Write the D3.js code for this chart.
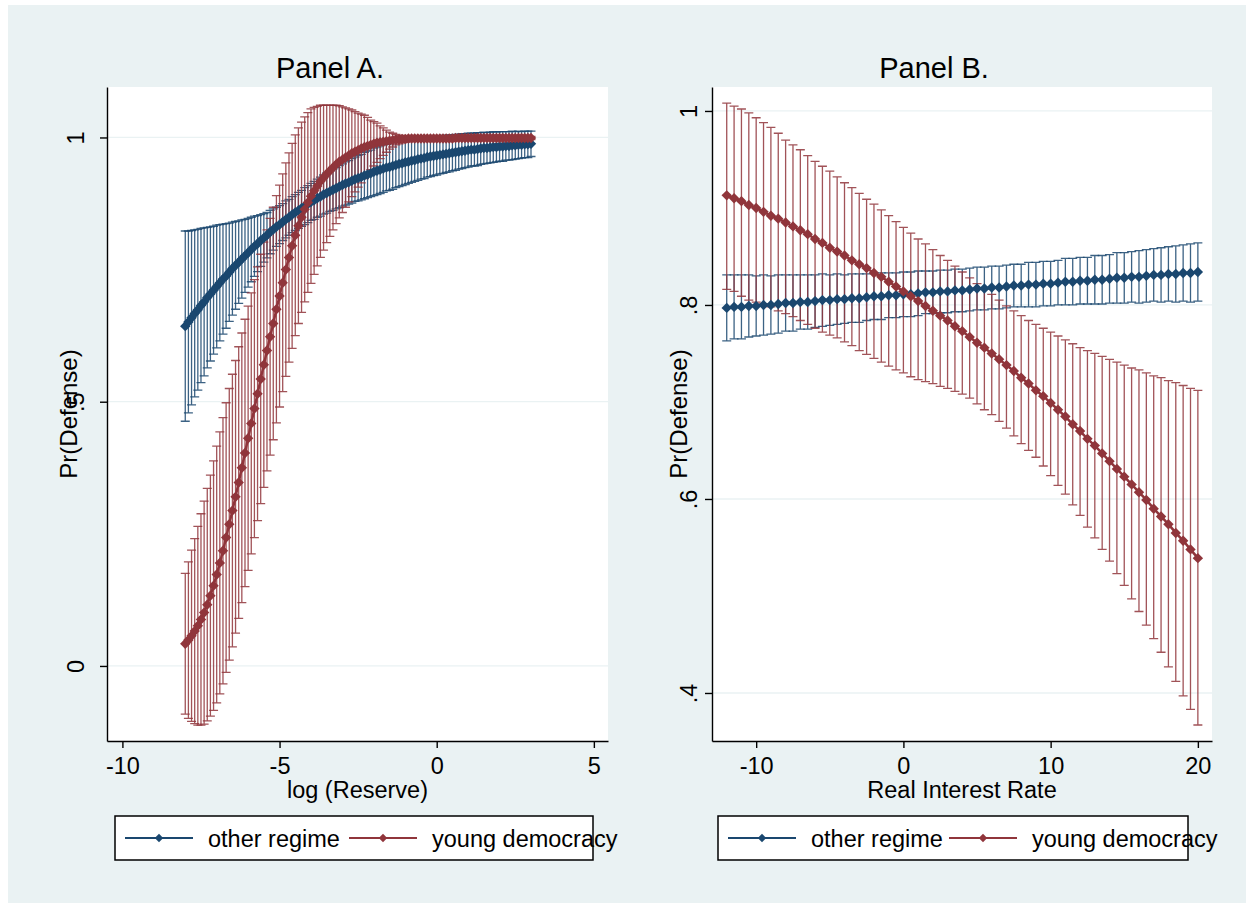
<!DOCTYPE html>
<html>
<head>
<meta charset="utf-8">
<script src="https://cdn.jsdelivr.net/npm/d3@7"></script>
<style>
body { margin: 0; background: #fff; }
text { font-family: "Liberation Sans", Arial, sans-serif; fill: #000; }
</style>
</head>
<body>
<svg id="chart" width="1253" height="907"></svg>
<script>
// Panel A : log (Reserve)
var reserveX = [
  -8.0,-7.9,-7.8,-7.7,-7.6,-7.5,-7.4,-7.3,-7.2,-7.1,
  -7.0,-6.9,-6.8,-6.7,-6.6,-6.5,-6.4,-6.3,-6.2,-6.1,
  -6.0,-5.9,-5.8,-5.7,-5.6,-5.5,-5.4,-5.3,-5.2,-5.1,
  -5.0,-4.9,-4.8,-4.7,-4.6,-4.5,-4.4,-4.3,-4.2,-4.1,
  -4.0,-3.9,-3.8,-3.7,-3.6,-3.5,-3.4,-3.3,-3.2,-3.1,
  -3.0,-2.9,-2.8,-2.7,-2.6,-2.5,-2.4,-2.3,-2.2,-2.1,
  -2.0,-1.9,-1.8,-1.7,-1.6,-1.5,-1.4,-1.3,-1.2,-1.1,
  -1.0,-0.9,-0.8,-0.7,-0.6,-0.5,-0.4,-0.3,-0.2,-0.1,
  0.0,0.1,0.2,0.3,0.4,0.5,0.6,0.7,0.8,0.9,
  1.0,1.1,1.2,1.3,1.4,1.5,1.6,1.7,1.8,1.9,
  2.0,2.1,2.2,2.3,2.4,2.5,2.6,2.7,2.8,2.9,
  3.0];

var otherA = [
  .643,.651,.659,.667,.674,.682,.689,.697,.704,.711,
  .718,.725,.732,.738,.745,.752,.758,.764,.770,.776,
  .782,.788,.794,.799,.805,.810,.815,.821,.826,.831,
  .835,.840,.845,.849,.854,.858,.862,.866,.870,.874,
  .878,.881,.885,.888,.892,.895,.898,.901,.904,.907,
  .910,.913,.915,.918,.921,.923,.925,.928,.930,.932,
  .935,.937,.939,.941,.943,.944,.946,.948,.950,.951,
  .953,.954,.956,.957,.959,.960,.961,.963,.964,.965,
  .966,.967,.968,.969,.970,.971,.972,.973,.974,.975,
  .976,.977,.977,.978,.979,.980,.980,.981,.982,.982,
  .983,.983,.984,.984,.985,.985,.986,.986,.987,.987,
  .988];
var otherAci = [
  .180,.172,.165,.158,.152,.146,.140,.133,.127,.121,
  .116,.110,.104,.099,.093,.088,.083,.078,.074,.069,
  .065,.061,.057,.053,.049,.046,.043,.041,.039,.037,
  .036,.035,.035,.034,.034,.034,.034,.034,.035,.035,
  .035,.036,.036,.037,.037,.038,.038,.039,.039,.040,
  .040,.041,.041,.042,.042,.043,.043,.044,.044,.044,
  .045,.045,.045,.045,.044,.044,.044,.043,.043,.042,
  .042,.041,.041,.040,.040,.039,.039,.038,.038,.037,
  .037,.036,.036,.035,.035,.034,.034,.033,.033,.032,
  .032,.031,.031,.031,.030,.030,.029,.029,.029,.028,
  .028,.028,.027,.027,.027,.026,.026,.025,.025,.025,
  .024];

var youngA = [
  .042,.049,.057,.066,.076,.088,.101,.116,.133,.152,
  .173,.195,.218,.243,.268,.294,.320,.347,.375,.403,
  .431,.459,.487,.515,.543,.570,.597,.623,.648,.675,
  .700,.725,.750,.773,.795,.815,.833,.849,.864,.877,
  .889,.899,.908,.917,.924,.931,.937,.943,.949,.954,
  .958,.962,.966,.970,.973,.976,.979,.982,.984,.986,
  .988,.990,.991,.992,.993,.994,.995,.996,.996,.997,
  .997,.998,.998,.998,.998,.998,.998,.998,.998,.998,
  .998,.998,.998,.998,.998,.998,.999,.999,.999,.999,
  .999,.999,.999,.999,.999,.999,.999,.999,.999,.999,
  .999,.999,.999,.999,.999,.999,.999,.999,.999,.999,
  .999];
var youngAci = [
  .133,.148,.162,.175,.188,.200,.211,.220,.228,.236,
  .243,.248,.252,.255,.257,.258,.258,.257,.255,.253,
  .250,.247,.244,.240,.236,.232,.228,.224,.220,.215,
  .210,.206,.202,.198,.194,.190,.185,.180,.175,.170,
  .165,.158,.151,.144,.137,.130,.124,.118,.112,.106,
  .100,.094,.088,.082,.076,.070,.065,.060,.054,.047,
  .042,.037,.031,.026,.021,.016,.013,.010,.008,.007,
  .006,.005,.005,.004,.004,.004,.004,.004,.004,.004,
  .004,.004,.004,.004,.004,.004,.004,.004,.004,.004,
  .004,.003,.003,.003,.003,.003,.003,.003,.003,.003,
  .003,.003,.003,.003,.003,.003,.003,.003,.003,.003,
  .003];

// Panel B : Real Interest Rate
var rateX = [
  -12,-11.5,-11,-10.5,-10,-9.5,-9,-8.5,-8,-7.5,
  -7,-6.5,-6,-5.5,-5,-4.5,-4,-3.5,-3,-2.5,
  -2,-1.5,-1,-0.5,0,0.5,1,1.5,2,2.5,
  3,3.5,4,4.5,5,5.5,6,6.5,7,7.5,
  8,8.5,9,9.5,10,10.5,11,11.5,12,12.5,
  13,13.5,14,14.5,15,15.5,16,16.5,17,17.5,
  18,18.5,19,19.5,20];

var otherB = [
  .797,.798,.798,.799,.799,.800,.800,.801,.802,.802,
  .803,.803,.804,.805,.805,.806,.806,.807,.807,.808,
  .809,.809,.810,.810,.811,.811,.812,.813,.813,.814,
  .814,.815,.815,.816,.817,.817,.818,.818,.819,.820,
  .820,.821,.821,.822,.822,.823,.824,.824,.825,.825,
  .826,.826,.827,.828,.828,.829,.829,.830,.831,.831,
  .832,.832,.833,.833,.834];
var otherBci = [
  .034,.033,.033,.032,.031,.031,.030,.030,.029,.029,
  .028,.028,.027,.027,.026,.026,.025,.025,.025,.024,
  .024,.024,.023,.023,.023,.023,.023,.022,.022,.022,
  .022,.022,.022,.022,.022,.022,.022,.022,.022,.022,
  .022,.023,.023,.023,.023,.023,.024,.024,.024,.024,
  .025,.025,.025,.026,.026,.026,.027,.027,.027,.028,
  .028,.029,.029,.030,.030];

var youngB = [
  .913,.910,.907,.903,.900,.896,.892,.889,.885,.881,
  .877,.873,.868,.864,.859,.855,.851,.846,.842,.838,
  .833,.829,.824,.819,.814,.809,.804,.799,.794,.789,
  .784,.778,.773,.767,.761,.756,.750,.744,.738,.732,
  .725,.719,.712,.706,.699,.692,.685,.677,.670,.662,
  .655,.647,.639,.631,.623,.615,.607,.599,.590,.582,
  .574,.565,.557,.548,.539];
var youngBhi = [
  1.008,1.005,1.002,.998,.993,.988,.983,.977,.970,.965,
  .960,.954,.948,.943,.938,.932,.926,.921,.915,.909,
  .904,.898,.892,.886,.880,.874,.868,.863,.857,.851,
  .846,.840,.834,.828,.822,.816,.811,.805,.799,.794,
  .789,.784,.780,.776,.772,.768,.764,.760,.756,.753,
  .750,.747,.744,.741,.738,.735,.733,.730,.727,.725,
  .722,.720,.717,.714,.712];
var youngBlo = [
  .816,.814,.809,.805,.803,.801,.798,.794,.791,.788,
  .784,.780,.776,.772,.769,.766,.762,.758,.753,.749,
  .745,.741,.737,.733,.730,.726,.723,.721,.719,.716,
  .714,.711,.708,.704,.698,.692,.687,.680,.673,.665,
  .657,.650,.643,.634,.624,.614,.605,.594,.583,.571,
  .560,.548,.536,.523,.511,.497,.484,.470,.456,.442,
  .427,.412,.397,.383,.367];

var xTicksA = [-10, -5, 0, 5];
var yTicksA = [0, .5, 1];
var xTicksB = [-10, 0, 10, 20];
var yTicksB = [.4, .6, .8, 1];
var legendLabels = ["other regime", "young democracy"];

var NAVY = "#1a476f", MAROON = "#90353b";

// est +/- half width
function rowsFromCi(xs, est, ci) {
  return xs.map(function(x, i) { return {x: x, est: est[i], lo: est[i] - ci[i], hi: est[i] + ci[i]}; });
}
function rowsFromBounds(xs, est, lo, hi) {
  return xs.map(function(x, i) { return {x: x, est: est[i], lo: lo[i], hi: hi[i]}; });
}

var svg = d3.select("#chart");
svg.append("rect").attr("x", 8).attr("y", 5).attr("width", 1238).attr("height", 898).attr("fill", "#eaf2f3");

function diamond(r) { return "M0," + (-r) + "L" + r + ",0L0," + r + "L" + (-r) + ",0Z"; }

function yFmt(d) { return d === 0 ? "0" : String(d).replace(/^0\./, "."); }

function drawPanel(p) {
  var g = svg.append("g");
  var x = d3.scaleLinear().domain(p.xDomain).range([p.left, p.right]);
  var y = d3.scaleLinear().domain(p.yDomain).range([p.bottom, p.top]);

  g.append("rect").attr("x", p.left).attr("y", p.top)
    .attr("width", p.right - p.left).attr("height", p.bottom - p.top).attr("fill", "#fff");

  g.selectAll("line.grid").data(p.yTicks).join("line").attr("class", "grid")
    .attr("x1", p.left).attr("x2", p.right)
    .attr("y1", function(d) { return y(d); }).attr("y2", function(d) { return y(d); })
    .attr("stroke", "#eaf2f3").attr("stroke-width", 1.3);

  // confidence intervals (rcap)
  var cap = 4.5;
  p.series.forEach(function(s) {
    g.append("g").selectAll("path").data(s.rows).join("path")
      .attr("d", function(d) {
        var px = x(d.x), yh = y(d.hi), yl = y(d.lo);
        return "M" + (px - cap) + "," + yh + "H" + (px + cap) +
               "M" + px + "," + yh + "V" + yl +
               "M" + (px - cap) + "," + yl + "H" + (px + cap);
      })
      .attr("fill", "none").attr("stroke", s.color).attr("stroke-width", 1.3).attr("stroke-opacity", 0.85);
  });

  // estimates
  p.series.forEach(function(s) {
    var line = d3.line().x(function(d) { return x(d.x); }).y(function(d) { return y(d.est); });
    g.append("path").datum(s.rows).attr("d", line)
      .attr("fill", "none").attr("stroke", s.color).attr("stroke-width", 2.5);
    g.append("g").selectAll("path").data(s.rows).join("path")
      .attr("transform", function(d) { return "translate(" + x(d.x) + "," + y(d.est) + ")"; })
      .attr("d", diamond(5.2)).attr("fill", s.color);
  });

  // axes
  var xa = g.append("g").attr("transform", "translate(0," + p.bottom + ")")
    .call(d3.axisBottom(x).tickValues(p.xTicks).tickSize(7).tickSizeOuter(0).tickPadding(9)
      .tickFormat(function(d) { return String(d); }));
  var ya = g.append("g").attr("transform", "translate(" + p.left + ",0)")
    .call(d3.axisLeft(y).tickValues(p.yTicks).tickSize(7).tickSizeOuter(0).tickFormat(yFmt));
  [xa, ya].forEach(function(a) {
    a.attr("font-size", null).attr("font-family", null);
    a.selectAll("path, line").attr("stroke", "#000").attr("stroke-width", 1.4);
    a.selectAll("text").style("font-size", "23.5px").attr("fill", "#000");
  });
  ya.selectAll("text").attr("x", null).attr("dy", null).attr("text-anchor", "middle")
    .attr("transform", "translate(" + (-p.yLabelOffset) + ",0) rotate(-90)");

  // titles
  g.append("text").attr("x", p.titleX).attr("y", 78).attr("text-anchor", "middle")
    .style("font-size", "29px").attr("fill", "#111").text(p.title);
  g.append("text").attr("x", (p.left + p.right) / 2).attr("y", 798).attr("text-anchor", "middle")
    .style("font-size", "23.5px").text(p.xTitle);
  g.append("text").attr("text-anchor", "middle")
    .attr("transform", "translate(" + p.yTitleX + "," + ((p.top + p.bottom) / 2) + ") rotate(-90)")
    .style("font-size", "24px").text("Pr(Defense)");

  // legend
  var lg = g.append("g");
  lg.append("rect").attr("x", p.legend.x).attr("y", 816).attr("width", p.legend.w).attr("height", 44)
    .attr("fill", "#fff").attr("stroke", "#000").attr("stroke-width", 1.5);
  p.series.forEach(function(s, i) {
    var lx = p.legend.items[i];
    lg.append("line").attr("x1", lx).attr("x2", lx + 68).attr("y1", 838).attr("y2", 838)
      .attr("stroke", s.color).attr("stroke-width", 1.8);
    lg.append("path").attr("transform", "translate(" + (lx + 34) + ",838)").attr("d", diamond(4.2)).attr("fill", s.color);
    lg.append("text").attr("x", lx + 83).attr("y", 847).style("font-size", "23.5px").text(legendLabels[i]);
  });
}

drawPanel({
  left: 107, right: 608, top: 87, bottom: 741,
  xDomain: [-10.49, 5.45], yDomain: [-0.142, 1.0955],
  xTicks: xTicksA, yTicks: yTicksA, yLabelOffset: 23, yTitleX: 77,
  title: "Panel A.", titleX: 330, xTitle: "log (Reserve)",
  legend: {x: 115, w: 478, items: [125, 349]},
  series: [
    {color: NAVY, rows: rowsFromCi(reserveX, otherA, otherAci)},
    {color: MAROON, rows: rowsFromCi(reserveX, youngA, youngAci)}
  ]
});

drawPanel({
  left: 712, right: 1212, top: 87, bottom: 741,
  xDomain: [-13.0, 20.96], yDomain: [0.3505, 1.0247],
  xTicks: xTicksB, yTicks: yTicksB, yLabelOffset: 15, yTitleX: 687,
  title: "Panel B.", titleX: 934, xTitle: "Real Interest Rate",
  legend: {x: 718, w: 470, items: [728, 949]},
  series: [
    {color: NAVY, rows: rowsFromCi(rateX, otherB, otherBci)},
    {color: MAROON, rows: rowsFromBounds(rateX, youngB, youngBlo, youngBhi)}
  ]
});
</script>
</body>
</html>
